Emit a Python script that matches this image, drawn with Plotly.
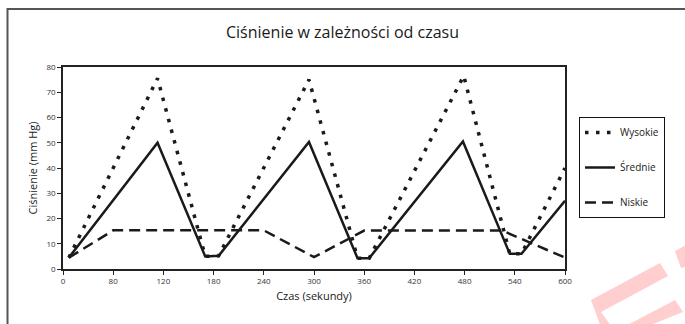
import plotly.graph_objects as go

# Pressure readings over time (seconds, mm Hg)
czas_wysokie = [7, 113, 170, 186, 294, 352, 366, 479, 534, 548, 600]
cisn_wysokie = [4.5, 75.5, 5, 5.2, 75, 4.3, 4.3, 76.5, 6, 6, 40]

czas_srednie = [7, 113, 170, 186, 294, 352, 366, 478, 534, 548, 600]
cisn_srednie = [4.5, 50, 5, 5.2, 50.3, 4.3, 4.3, 50.5, 6, 6, 27]

czas_niskie = [7, 60, 240, 300, 360, 525, 600]
cisn_niskie = [4.5, 15.3, 15.3, 4.7, 15.2, 15.2, 4.5]

x_tickvals = [0, 60, 120, 180, 240, 300, 360, 420, 480, 540, 600]
x_ticktext = ["0", "80", "120", "180", "240", "300", "360", "420", "480", "540", "600"]
y_tickvals = [0, 10, 20, 30, 40, 50, 60, 70, 80]

FONT = "Open Sans"
INK = "#1a1a1a"

W, H = 685, 324
L, R, T, B = 63, 120, 67, 55
PW, PH = W - L - R, H - T - B


def px(x):
    return (x - L) / PW


def py(y):
    return (H - B - y) / PH


fig = go.Figure()
fig.add_trace(go.Scatter(
    x=czas_wysokie, y=cisn_wysokie, name="Wysokie", mode="lines",
    legendgroup="w", line=dict(color=INK, width=3.5, dash="3.5px,7.5px"),
))
fig.add_trace(go.Scatter(
    x=czas_srednie, y=cisn_srednie, name="Średnie", mode="lines",
    legendgroup="s", line=dict(color=INK, width=2.5),
))
fig.add_trace(go.Scatter(
    x=czas_niskie, y=cisn_niskie, name="Niskie", mode="lines",
    legendgroup="n", line=dict(color=INK, width=2.5, dash="11px,6px"),
))

# outer frame of the chart
fig.add_shape(type="rect", xref="paper", yref="paper",
              x0=px(7.5), x1=px(720), y0=py(9), y1=py(360),
              line=dict(color="#555555", width=2), layer="below")

# watermark in the lower right corner
wm = "rgba(255,60,60,0.25)"
wm_paths = [
    [(591, 300), (660, 263), (668, 276), (601, 312), (614, 330), (602, 330)],
    [(618, 330), (675, 300), (683, 312), (638, 330)],
    [(675, 251), (690, 243), (690, 265), (681, 268)],
]
for poly in wm_paths:
    d = "M " + " L ".join(f"{px(x):.4f},{py(y):.4f}" for x, y in poly) + " Z"
    fig.add_shape(type="path", xref="paper", yref="paper", path=d,
                  fillcolor=wm, line=dict(width=0), layer="above")

fig.update_layout(
    width=W, height=H,
    margin=dict(l=L, r=R, t=T, b=B),
    paper_bgcolor="white", plot_bgcolor="white",
    font=dict(family=FONT, color=INK),
    title=dict(text="Ciśnienie w zależności od czasu", x=0.5, xref="container",
               xanchor="center", y=1 - 32 / H, yanchor="middle",
               font=dict(size=16, family=FONT, color=INK)),
    showlegend=True,
    legend=dict(x=px(579), y=py(117), xanchor="left", yanchor="top",
                bordercolor="#111111", borderwidth=1, bgcolor="white",
                font=dict(size=10, family=FONT, color=INK),
                tracegroupgap=16, itemwidth=30),
    xaxis=dict(range=[0, 600], tickvals=x_tickvals, ticktext=x_ticktext,
               showgrid=False, zeroline=False, showline=True, mirror=True,
               linecolor="#222222", linewidth=1.5,
               ticks="outside", ticklen=4, tickcolor="#222222",
               tickfont=dict(size=8, family=FONT, color="#333333"),
               title=dict(text="Czas (sekundy)", standoff=7,
                          font=dict(size=11, family=FONT, color=INK))),
    yaxis=dict(range=[0, 80], tickvals=y_tickvals,
               showgrid=False, zeroline=False, showline=True, mirror=True,
               linecolor="#222222", linewidth=1.5,
               ticks="outside", ticklen=4, tickcolor="#222222",
               tickfont=dict(size=8, family=FONT, color="#333333"),
               title=dict(text="Ciśnienie (mm Hg)", standoff=7,
                          font=dict(size=11, family=FONT, color=INK))),
)

fig.write_html("out.html")
